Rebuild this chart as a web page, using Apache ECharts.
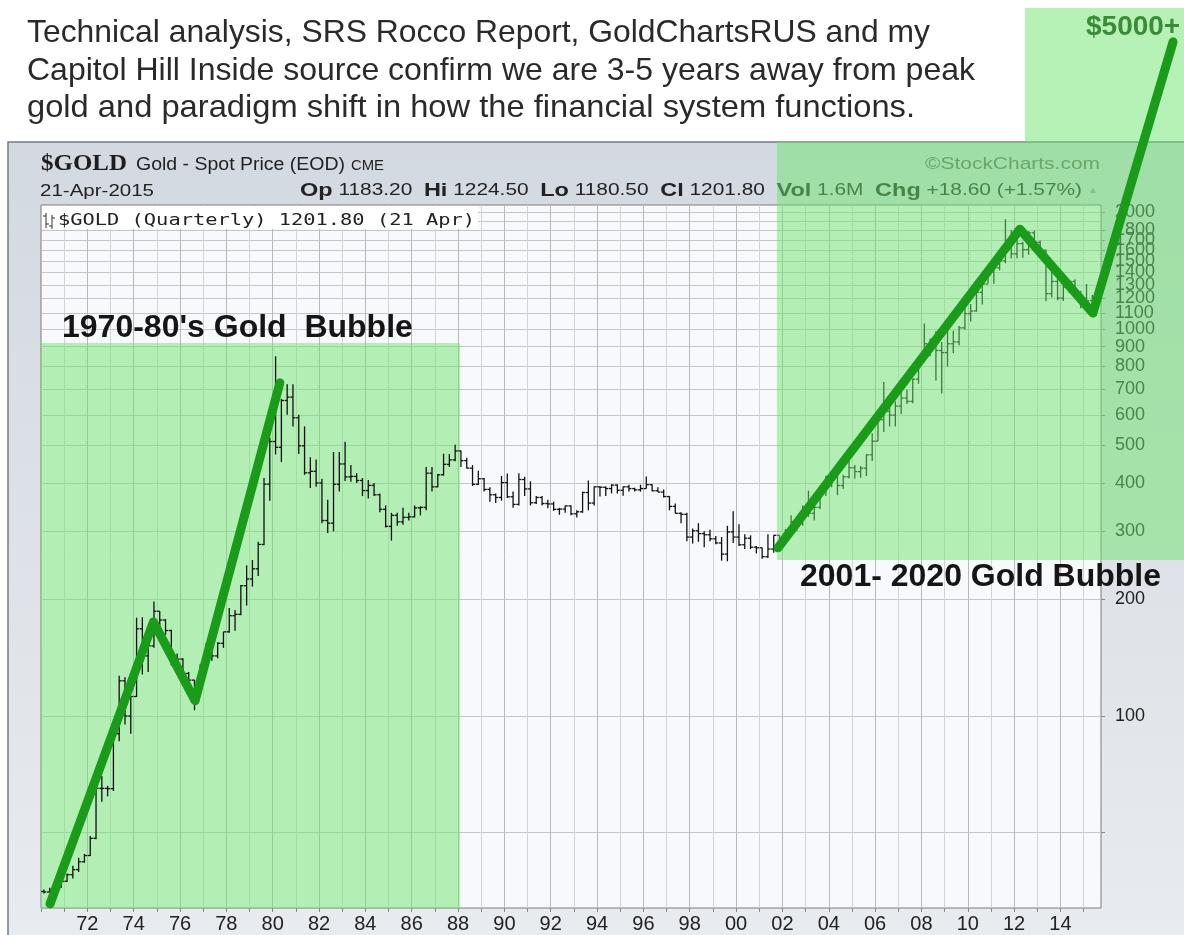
<!DOCTYPE html>
<html><head><meta charset="utf-8">
<script src="https://cdn.jsdelivr.net/npm/echarts@6/dist/echarts.min.js"></script>
<style>html,body{margin:0;padding:0;background:#fff}#c{width:1184px;height:935px}</style>
</head><body><div id="c"></div>
<script>
// ---- DATA (quarterly gold OHLC, 1970 Q1 .. 2015 Q2) ----
const firstYear = 1970;
const open = [
 35.2,35.1,35.5,36.2, 37.4,38.9,40.1,42.0, 43.6,48.3,65.0,65.0, 64.9,90.0,123.3,100.0,
 112.3,168.0,143.0,151.8, 186.5,177.0,166.3,142.0, 140.3,128.8,123.8,117.0, 134.5,148.9,143.0,154.1,
 165.0,181.6,183.1,217.1, 226.0,240.1,277.5,397.3, 512.0,494.5,653.5,666.8, 589.8,499.0,425.0,428.8,
 400.0,320.0,315.0,397.0, 448.0,414.8,416.0,406.0, 382.4,394.3,373.0,342.0, 309.0,330.0,317.5,326.0,
 327.0,345.0,346.0,424.0, 391.0,420.0,447.0,459.0, 484.1,457.0,437.0,397.0, 410.3,385.0,373.0,367.0,
 401.0,368.5,352.2,408.4, 386.2,355.7,367.0,354.0, 353.2,342.0,342.5,349.0, 333.0,337.0,378.0,355.0,
 391.0,390.0,387.0,395.0, 383.0,391.0,387.0,384.0, 387.0,396.0,382.0,379.0, 369.0,348.0,334.0,332.0,
 290.0,301.0,296.0,294.0, 287.0,280.0,262.0,299.0, 290.0,277.0,288.0,273.0, 272.0,258.0,270.0,293.0,
 277.0,302.0,318.0,323.0, 347.0,334.0,346.0,384.0, 416.0,424.0,394.0,415.0, 438.0,428.0,437.0,473.0,
 513.0,583.0,613.0,599.0, 632.0,663.0,650.0,742.0, 834.0,916.0,928.0,880.0, 869.0,916.0,926.0,1007.0,
 1096.0,1113.0,1244.0,1307.0, 1421.0,1439.0,1500.0,1620.0, 1564.0,1662.0,1604.0,1772.0, 1675.0,1597.0,1234.0,1327.0,
 1202.0,1284.0,1327.0,1208.0, 1184.0,1183.2
];
const high = [
 35.6,36.0,36.5,37.6, 39.2,41.0,43.0,44.0, 49.0,66.0,70.0,66.0, 90.0,127.0,126.0,112.0,
 179.5,180.0,155.0,197.5, 186.5,178.0,167.0,145.0, 141.0,130.0,124.0,136.0, 154.0,150.0,155.0,165.0,
 190.0,188.0,218.0,245.0, 253.0,282.0,412.0,524.0, 850.0,660.0,720.0,720.0, 600.0,560.0,466.0,460.0,
 410.0,362.0,481.0,481.0, 511.0,445.0,424.0,412.0, 407.0,400.0,376.0,350.0, 335.0,335.0,345.0,335.0,
 350.0,348.0,440.0,440.0, 422.0,476.0,475.0,502.0, 485.0,465.0,445.0,430.0, 412.0,390.0,376.0,417.0,
 423.0,380.0,424.0,415.0, 404.0,370.0,370.0,362.0, 358.0,345.0,350.0,350.0, 340.0,380.0,406.0,392.0,
 392.0,392.0,397.0,397.0, 392.0,396.0,389.0,396.0, 416.0,397.0,390.0,385.0, 370.0,354.0,336.0,335.0,
 305.0,315.0,300.0,303.0, 292.0,290.0,310.0,338.0, 313.0,295.0,293.0,275.0, 272.0,295.0,293.0,293.0,
 304.0,330.0,327.0,350.0, 382.0,372.0,390.0,417.0, 427.0,431.0,420.0,456.0, 445.0,442.0,475.0,538.0,
 585.0,730.0,675.0,650.0, 692.0,697.0,745.0,845.0, 1033.0,945.0,988.0,925.0, 1007.0,990.0,1018.0,1226.0,
 1161.0,1265.0,1310.0,1431.0, 1447.0,1577.0,1921.0,1803.0, 1791.0,1680.0,1790.0,1796.0, 1694.0,1605.0,1434.0,1362.0,
 1392.0,1331.0,1345.0,1255.0, 1307.0,1224.5
];
const low = [
 34.8,35.0,35.2,36.0, 37.3,38.0,39.5,41.8, 43.5,48.0,60.0,62.0, 64.0,86.0,95.0,90.0,
 112.0,128.0,130.0,150.0, 165.0,162.0,135.0,128.0, 125.0,122.0,103.5,113.0, 131.0,139.0,141.0,150.0,
 164.0,166.0,182.0,193.0, 216.0,230.0,276.0,360.0, 474.0,453.0,600.0,560.0, 475.0,420.0,388.0,391.0,
 315.0,297.0,300.0,380.0, 405.0,403.0,400.0,370.0, 365.0,370.0,336.0,307.0, 284.0,310.0,312.0,320.0,
 326.0,330.0,340.0,380.0, 390.0,418.0,440.0,455.0, 440.0,436.0,393.0,395.0, 380.0,358.0,355.0,360.0,
 366.0,345.0,350.0,370.0, 350.0,353.0,350.0,344.0, 339.0,331.0,335.0,330.0, 326.0,335.0,340.0,350.0,
 369.0,370.0,376.0,376.0, 371.0,380.0,380.0,380.0, 387.0,381.0,379.0,367.0, 340.0,334.0,315.0,283.0,
 279.0,282.0,273.0,283.0, 278.0,252.0,251.0,280.0, 275.0,270.0,270.0,263.0, 255.0,256.0,264.0,271.0,
 277.0,298.0,301.0,310.0, 327.0,320.0,342.0,370.0, 390.0,372.0,386.0,411.0, 410.0,413.0,417.0,456.0,
 513.0,542.0,560.0,560.0, 603.0,640.0,643.0,722.0, 834.0,850.0,736.0,681.0, 800.0,865.0,908.0,995.0,
 1045.0,1108.0,1157.0,1310.0, 1309.0,1418.0,1478.0,1522.0, 1523.0,1527.0,1556.0,1662.0, 1555.0,1180.0,1207.0,1186.0,
 1182.0,1240.0,1206.0,1131.0, 1142.0,1180.5
];
const close = [
 35.1,35.5,36.2,37.4, 38.9,40.1,42.0,43.6, 48.3,65.0,65.0,64.9, 90.0,123.3,100.0,112.3,
 168.0,143.0,151.8,186.5, 177.0,166.3,142.0,140.3, 128.8,123.8,117.0,134.5, 148.9,143.0,154.1,165.0,
 181.6,183.1,217.1,226.0, 240.1,277.5,397.3,512.0, 494.5,653.5,666.8,589.8, 499.0,425.0,428.8,400.0,
 320.0,315.0,397.0,448.0, 414.8,416.0,406.0,382.4, 394.3,373.0,342.0,309.0, 330.0,317.5,326.0,327.0,
 345.0,346.0,424.0,391.0, 420.0,447.0,459.0,484.1, 457.0,437.0,397.0,410.3, 385.0,373.0,367.0,401.0,
 368.5,352.2,408.4,386.2, 355.7,367.0,354.0,353.2, 342.0,342.5,349.0,333.0, 337.0,378.0,355.0,391.0,
 390.0,387.0,395.0,383.0, 391.0,387.0,384.0,387.0, 396.0,382.0,379.0,369.0, 348.0,334.0,332.0,290.0,
 301.0,296.0,294.0,287.0, 280.0,262.0,299.0,290.0, 277.0,288.0,273.0,272.0, 258.0,270.0,293.0,277.0,
 302.0,318.0,323.0,347.0, 334.0,346.0,384.0,416.0, 424.0,394.0,415.0,438.0, 428.0,437.0,473.0,513.0,
 583.0,613.0,599.0,632.0, 663.0,650.0,742.0,834.0, 916.0,928.0,880.0,869.0, 916.0,926.0,1007.0,1096.0,
 1113.0,1244.0,1307.0,1421.0, 1439.0,1500.0,1620.0,1564.0, 1662.0,1604.0,1772.0,1675.0, 1597.0,1234.0,1327.0,1202.0,
 1284.0,1327.0,1208.0,1184.0, 1183.0,1201.8
];
const yTickLabels = [100,200,300,400,500,600,700,800,900,1000,1100,1200,1300,1400,1500,1600,1700,1800,1900,2000];
const yGridValues = [50,100,200,300,400,500,600,700,800,900,1000,1100,1200,1300,1400,1500,1600,1700,1800,1900,2000];
const xGridYears = [1970,1971,1972,1973,1974,1975,1976,1977,1978,1979,1980,1981,1982,1983,1984,1985,1986,1987,1988,1989,1990,
  1991,1992,1993,1994,1995,1996,1997,1998,1999,2000,2001,2002,2003,2004,2005,2006,2007,2008,2009,2010,2011,2012,2013,2014,2015];
const xLabelYears = [1972,1974,1976,1978,1980,1982,1984,1986,1988,1990,1992,1994,1996,1998,2000,2002,2004,2006,2008,2010,2012,2014];
const trend1970s = [[1970.39,32.7],[1974.85,175],[1976.65,109.5],[1980.31,726]];
const trend2000s = [[2001.81,272],[2012.25,1811],[2015.40,1099],[2018.86,5520]];
const bubble1970s = {from:1970, to:1988.08, top:920};

// ---- BUILD ----
const L = v => Math.log10(v);
const ohlc = open.map((o,i)=>[firstYear + i*0.25 + 0.125, L(o), L(high[i]), L(low[i]), L(close[i])]);
const yMin = 2 - 192/387, yMax = yMin + 703/387;

const SANS = "'Liberation Sans', Arial, sans-serif";
const greenFill = 'rgba(110,228,110,0.5)';
const trendColor = '#1a9c1a';

// text fitting helpers (layout only)
const mctx = document.createElement('canvas').getContext('2d');
function tw(font, s){ mctx.font = font; return mctx.measureText(s).width; }
function fitText(s, font, x0, x1, ym, fill, z){
  return {type:'text', z:z||7, x:x0, y:ym, scaleX:(x1-x0)/tw(font,s),
          style:{text:s, font:font, fill:fill||'#222', verticalAlign:'middle'}};
}
// header row with bold labels
const rowBold = "bold 18px "+SANS, rowReg = "16px "+SANS;
const rowParts = [['Op',1],[' 1183.20  ',0],['Hi',1],[' 1224.50  ',0],['Lo',1],[' 1180.50  ',0],['Cl',1],[' 1201.80  ',0],['Vol',1],[' 1.6M  ',0],['Chg',1],[' +18.60 (+1.57%)',0]];
const rowW = rowParts.reduce((a,p)=>a+tw(p[1]?rowBold:rowReg,p[0]),0);
const rowText = rowParts.map(p=>p[1]?'{b|'+p[0]+'}':p[0]).join('');

function trendSeries(points){
  return {type:'custom', z:6, clip:false, silent:true,
    data:[[points[0][0], L(points[0][1])]],
    renderItem:function(params, api){
      return {type:'polyline', shape:{points: points.map(p=>api.coord([p[0], L(p[1])]))},
              style:{stroke:trendColor, lineWidth:9, fill:null, lineCap:'round', lineJoin:'round'}};
    }};
}

const chart = echarts.init(document.getElementById('c'), null, {renderer:'canvas'});
const option = {
  animation:false,
  backgroundColor:'#ffffff',
  grid:{left:41, top:205, width:1060, height:703, show:true, backgroundColor:'#f8f9fc', borderColor:'#7d7d7d', borderWidth:1},
  xAxis:{
    type:'value', min:1970, max:2015.75, interval:1,
    axisLine:{show:false},
    axisTick:{show:true, customValues:xGridYears, length:4, lineStyle:{color:'#888'}},
    axisLabel:{customValues:xLabelYears, formatter:v=>String(Math.round(v)%100).padStart(2,'0'), color:'#222', fontSize:20, fontFamily:SANS, margin:6},
    splitLine:{show:true, lineStyle:{color:['#b9b9b9','#d4d4d4'], width:1}}
  },
  yAxis:{
    type:'value', position:'right', min:yMin, max:yMax,
    axisLine:{show:false},
    axisTick:{show:true, customValues:yGridValues.map(L), length:4, lineStyle:{color:'#888'}},
    axisLabel:{customValues:yTickLabels.map(L), formatter:v=>String(Math.round(Math.pow(10,v))), color:'#222', fontSize:18, fontFamily:SANS, margin:14, hideOverlap:false, showMaxLabel:true, showMinLabel:true},
    splitLine:{show:true, lineStyle:{color:'#c6c6c6', width:1}}
  },
  series:[
    {
      type:'custom', name:'$GOLD', z:3, clip:true,
      data: ohlc,
      renderItem:function(params, api){
        const x=api.value(0);
        const pO=api.coord([x,api.value(1)]), pH=api.coord([x,api.value(2)]),
              pL=api.coord([x,api.value(3)]), pC=api.coord([x,api.value(4)]);
        const st={stroke:'#111', lineWidth:1.3};
        return {type:'group', children:[
          {type:'line', shape:{x1:pH[0],y1:pH[1],x2:pL[0],y2:pL[1]}, style:st},
          {type:'line', shape:{x1:pO[0]-2.6,y1:pO[1],x2:pO[0],y2:pO[1]}, style:st},
          {type:'line', shape:{x1:pC[0],y1:pC[1],x2:pC[0]+2.6,y2:pC[1]}, style:st}
        ]};
      },
      markArea:{
        silent:true, z:2,
        itemStyle:{color:greenFill},
        data:[[{xAxis:bubble1970s.from, yAxis:yMin},{xAxis:bubble1970s.to, yAxis:L(bubble1970s.top)}]]
      }
    },
    trendSeries(trend1970s),
    trendSeries(trend2000s)
  ],
  graphic:{elements:[
    // StockCharts panel
    {type:'rect', z:-10, shape:{x:8,y:142,width:1190,height:800},
     style:{fill:new echarts.graphic.LinearGradient(0,0,0,1,[{offset:0,color:'#d3d9e1'},{offset:1,color:'#e8ebef'}]), stroke:'#777c83', lineWidth:1.5}},
    // header texts
    fitText('$GOLD', "bold 23px 'Liberation Serif', serif", 41, 127, 164, '#1e1e1e', 4),
    fitText('Gold - Spot Price (EOD)', "18px "+SANS, 136, 345, 165, '#222', 4),
    fitText('CME', "15px "+SANS, 351, 384, 166, '#222', 4),
    fitText('21-Apr-2015', "17px "+SANS, 40, 154, 191, '#222', 4),
    {type:'text', z:4, x:300, y:191, scaleX:782/rowW, style:{text:rowText, font:rowReg, fill:'#222', verticalAlign:'middle', rich:{b:{font:rowBold, fill:'#222'}}}},
    {type:'text', z:4, x:1088, y:190, style:{text:'▲', font:"10px "+SANS, fill:'#9aa3ad', verticalAlign:'middle'}},
    fitText('©StockCharts.com', "17px "+SANS, 925, 1100, 164, '#666', 4),
    // plot legend
    {type:'rect', z:4, shape:{x:42,y:206,width:436,height:23}, style:{fill:'#ffffff'}},
    {type:'line', z:5, shape:{x1:46,y1:213,x2:46,y2:228}, style:{stroke:'#333',lineWidth:1}},
    {type:'line', z:5, shape:{x1:43,y1:216,x2:46,y2:216}, style:{stroke:'#333',lineWidth:1}},
    {type:'line', z:5, shape:{x1:46,y1:224,x2:49,y2:224}, style:{stroke:'#333',lineWidth:1}},
    {type:'line', z:5, shape:{x1:52,y1:215,x2:52,y2:229}, style:{stroke:'#333',lineWidth:1}},
    {type:'line', z:5, shape:{x1:49,y1:226,x2:52,y2:226}, style:{stroke:'#333',lineWidth:1}},
    {type:'line', z:5, shape:{x1:52,y1:218,x2:55,y2:218}, style:{stroke:'#333',lineWidth:1}},
    fitText('$GOLD (Quarterly) 1201.80 (21 Apr)', "16px 'DejaVu Sans Mono', monospace", 58, 475, 221, '#222', 5),
    // green shading for the 2001-2020 bubble (over plot and beyond)
    {type:'rect', z:4, shape:{x:777,y:142,width:420,height:418}, style:{fill:greenFill}},
    {type:'rect', z:4, shape:{x:1025,y:8,width:170,height:134}, style:{fill:greenFill}},
    // title
    fitText('Technical analysis, SRS Rocco Report, GoldChartsRUS and my', "32px "+SANS, 27, 930, 33, '#2a2a2a', 7),
    fitText('Capitol Hill Inside source confirm we are 3-5 years away from peak', "32px "+SANS, 27, 975, 71, '#2a2a2a', 7),
    fitText('gold and paradigm shift in how the financial system functions.', "32px "+SANS, 27, 915, 108, '#2a2a2a', 7),
    {type:'text', z:7, x:1086, y:27, style:{text:'$5000+', font:"bold 28px "+SANS, fill:'#3a8c3a', verticalAlign:'middle'}},
    // bubble labels
    {type:'text', z:7, x:62, y:328, style:{text:"1970-80's Gold  Bubble", font:"bold 32px "+SANS, fill:'#151515', verticalAlign:'middle'}},
    {type:'text', z:7, x:800, y:577, style:{text:'2001- 2020 Gold Bubble', font:"bold 32px "+SANS, fill:'#151515', verticalAlign:'middle'}}
  ]}
};
chart.setOption(option);
</script>
</body></html>
